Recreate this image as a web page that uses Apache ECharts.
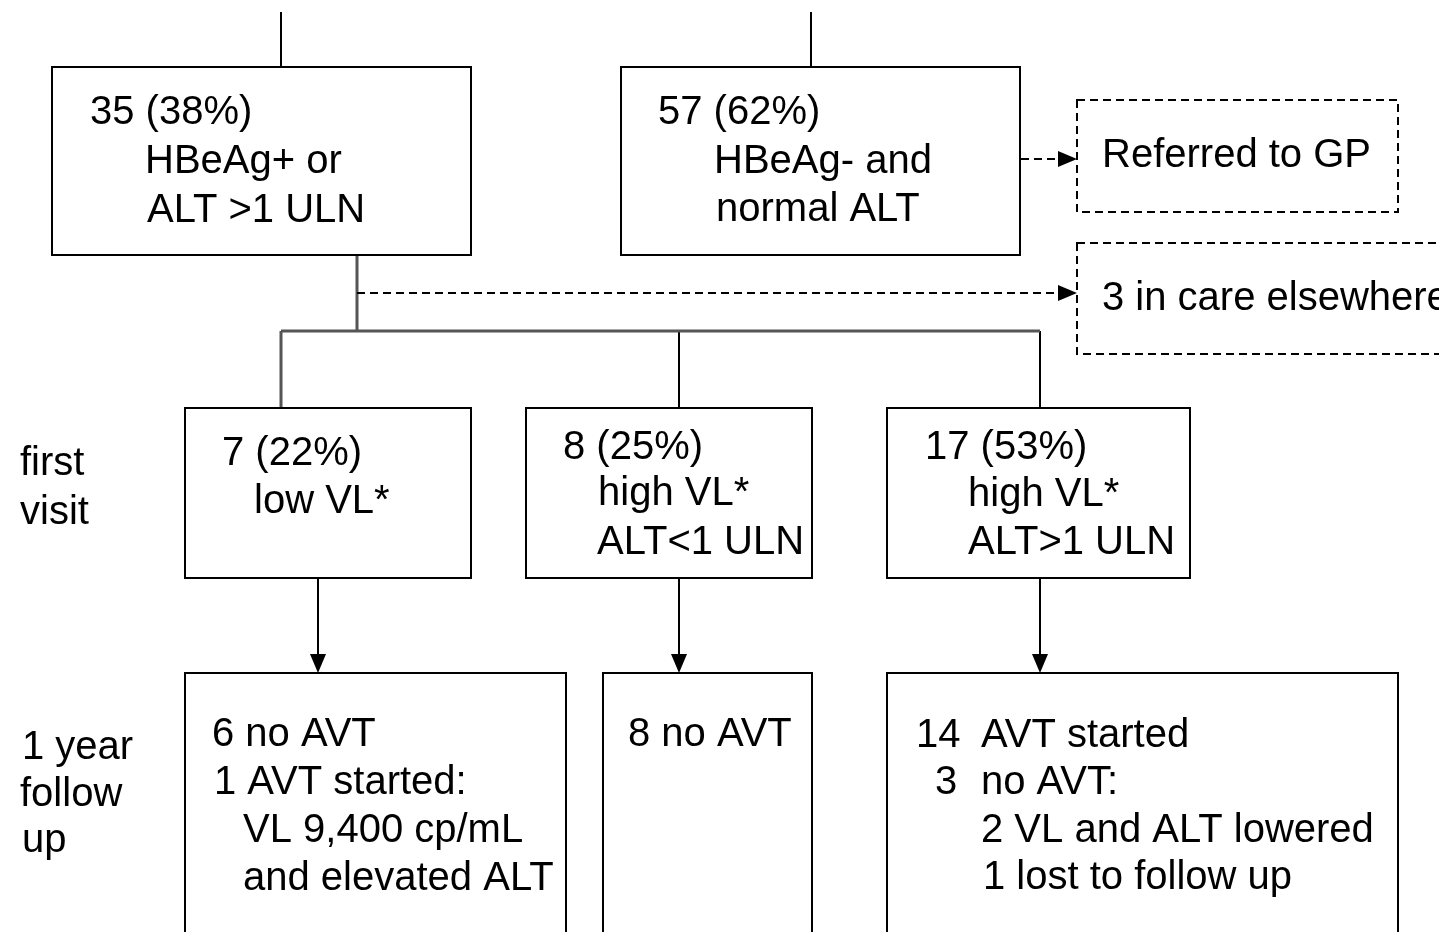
<!DOCTYPE html>
<html>
<head>
<meta charset="utf-8">
<title>HBV follow-up flowchart</title>
<script src="https://cdn.jsdelivr.net/npm/echarts@6/dist/echarts.min.js"></script>
<style>
  html, body { margin: 0; padding: 0; background: #fff; }
  #chart { width: 1439px; height: 932px; }
</style>
</head>
<body>
<div id="chart"></div>
<script>
// diagram units = pixels of the original figure (x right, y down)
// boxes: [x0, y0, x1, y1]
const solidBoxes = [
  [52, 67, 471, 255],
  [621, 67, 1020, 255],
  [185, 408, 471, 578],
  [526, 408, 812, 578],
  [887, 408, 1190, 578],
  [185, 673, 566, 960],
  [603, 673, 812, 960],
  [887, 673, 1398, 960]
];
const dashedBoxes = [
  [1077, 100, 1398, 212],
  [1077, 243, 1490, 354]
];
// links: [x1, y1, x2, y2]
const plainLinks = [
  [281, 12, 281, 67],
  [811, 12, 811, 67],
  [679, 331, 679, 408],
  [1040, 331, 1040, 408]
];
const trunkLinks = [
  [357, 255, 357, 331],
  [281, 331, 1040, 331],
  [281, 331, 281, 408]
];
const arrowLinks = [
  [318, 578, 318, 673],
  [679, 578, 679, 673],
  [1040, 578, 1040, 673]
];
const dashedArrows = [
  [1021, 159, 1077, 159],
  [357, 293, 1077, 293]
];
// text lines: [x, y (middle), text]
const textLines = [
  [90, 113, '35 (38%)'],
  [145, 162, 'HBeAg+ or'],
  [147, 211, 'ALT >1 ULN'],
  [658, 113, '57 (62%)'],
  [714, 162, 'HBeAg- and'],
  [716, 210, 'normal ALT'],
  [1102, 156, 'Referred to GP'],
  [1102, 299, '3 in care elsewhere'],
  [20, 464, 'first'],
  [20, 513, 'visit'],
  [222, 454, '7 (22%)'],
  [254, 502, 'low VL*'],
  [563, 448, '8 (25%)'],
  [598, 494, 'high VL*'],
  [597, 543, 'ALT<1 ULN'],
  [925, 448, '17 (53%)'],
  [968, 495, 'high VL*'],
  [968, 543, 'ALT>1 ULN'],
  [22, 748, '1 year'],
  [20, 795, 'follow'],
  [22, 841, 'up'],
  [212, 735, '6 no AVT'],
  [214, 783, '1 AVT started:'],
  [243, 831, 'VL 9,400 cp/mL'],
  [243, 879, 'and elevated ALT'],
  [628, 735, '8 no AVT'],
  [916, 736, '14'],
  [981, 736, 'AVT started'],
  [935, 783, '3'],
  [981, 783, 'no AVT:'],
  [981, 831, '2 VL and ALT lowered'],
  [983, 878, '1 lost to follow up']
];

const FONT = '40px "Liberation Sans", Arial, sans-serif';
const DASH = [8, 5];

function boxSeries(data, dashed) {
  return {
    type: 'custom',
    coordinateSystem: 'cartesian2d',
    silent: true,
    data: data,
    renderItem: function (params, api) {
      const p0 = api.coord([api.value(0), api.value(1)]);
      const p1 = api.coord([api.value(2), api.value(3)]);
      return {
        type: 'rect',
        shape: { x: p0[0], y: p0[1], width: p1[0] - p0[0], height: p1[1] - p0[1] },
        style: { fill: '#fff', stroke: '#000', lineWidth: 2, lineDash: dashed ? DASH : null }
      };
    }
  };
}

function linkSeries(data, color, width, dashed, arrow) {
  return {
    type: 'custom',
    coordinateSystem: 'cartesian2d',
    silent: true,
    data: data,
    renderItem: function (params, api) {
      const a = api.coord([api.value(0), api.value(1)]);
      const b = api.coord([api.value(2), api.value(3)]);
      const children = [];
      let end = b;
      let head = null;
      if (arrow) {
        // arrow head with its tip on the end point
        const dx = b[0] - a[0], dy = b[1] - a[1];
        const len = Math.sqrt(dx * dx + dy * dy);
        const ux = dx / len, uy = dy / len;
        const L = 19, W = 8;
        const bx = b[0] - ux * L, by = b[1] - uy * L;
        end = [bx, by];
        head = [[b[0], b[1]], [bx - uy * W, by + ux * W], [bx + uy * W, by - ux * W]];
      }
      children.push({
        type: 'line',
        shape: { x1: a[0], y1: a[1], x2: end[0], y2: end[1] },
        style: { stroke: color, lineWidth: width, lineDash: dashed ? DASH : null }
      });
      if (head) {
        children.push({ type: 'polygon', shape: { points: head }, style: { fill: '#000' } });
      }
      return { type: 'group', children: children };
    }
  };
}

const textSeries = {
  type: 'custom',
  coordinateSystem: 'cartesian2d',
  silent: true,
  data: textLines.map(function (t) { return [t[0], t[1]]; }),
  renderItem: function (params, api) {
    const p = api.coord([api.value(0), api.value(1)]);
    return {
      type: 'text',
      style: {
        x: p[0], y: p[1],
        text: textLines[params.dataIndex][2],
        font: FONT,
        fill: '#000',
        textAlign: 'left',
        textVerticalAlign: 'middle'
      }
    };
  }
};

const myChart = echarts.init(document.getElementById('chart'));
myChart.setOption({
  backgroundColor: '#fff',
  animation: false,
  grid: { left: 0, right: 0, top: 0, bottom: 0 },
  xAxis: { type: 'value', min: 0, max: 1439, show: false },
  yAxis: { type: 'value', min: 0, max: 932, inverse: true, show: false },
  series: [
    linkSeries(plainLinks, '#000', 2, false, false),
    linkSeries(trunkLinks, '#555', 3, false, false),
    linkSeries(arrowLinks, '#000', 2, false, true),
    linkSeries(dashedArrows, '#000', 2, true, true),
    boxSeries(solidBoxes, false),
    boxSeries(dashedBoxes, true),
    textSeries
  ]
});
</script>
</body>
</html>
